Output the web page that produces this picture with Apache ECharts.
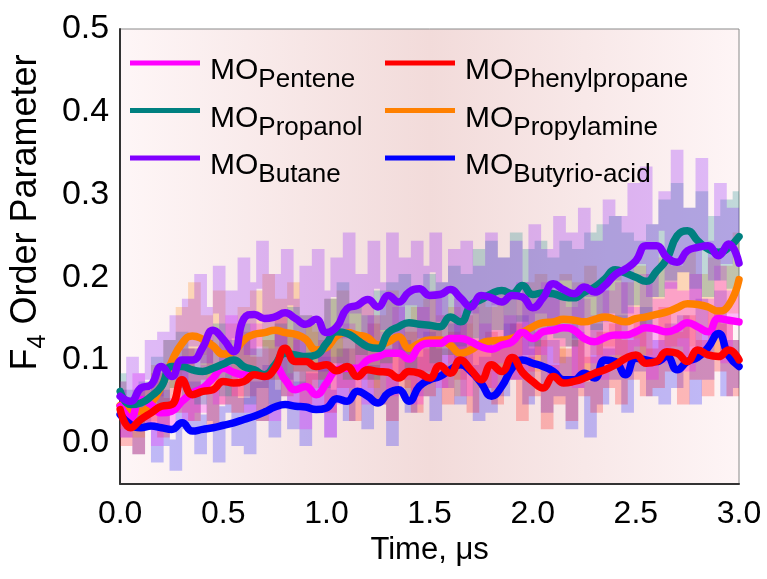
<!DOCTYPE html>
<html>
<head>
<meta charset="utf-8">
<script src="https://cdn.jsdelivr.net/npm/echarts@6/dist/echarts.min.js"></script>
<style>
  html, body { margin: 0; padding: 0; background: #ffffff; }
  #chart { width: 767px; height: 579px; }
</style>
</head>
<body>
<div id="chart"></div>
<script>
// Axis ticks
const xTicks = [0.0, 0.5, 1.0, 1.5, 2.0, 2.5, 3.0];
const yTicks = [0.0, 0.1, 0.2, 0.3, 0.4, 0.5];
const TIME_END = 3.0;

// Running-average F4 order parameter, sampled every 0.05 µs (0 → 3 µs)
const pentene = [0.044,0.030,0.052,0.046,0.036,0.038,0.050,0.060,0.066,0.078,0.090,0.085,0.082,0.086,0.080,0.092,0.076,0.064,0.068,0.058,0.072,0.088,0.090,0.090,0.100,0.104,0.108,0.108,0.101,0.116,0.120,0.120,0.126,0.126,0.122,0.116,0.113,0.118,0.122,0.133,0.126,0.134,0.136,0.139,0.136,0.126,0.122,0.127,0.130,0.130,0.134,0.139,0.137,0.134,0.138,0.145,0.140,0.134,0.150,0.148,0.146];
const phenylpropane = [0.040,0.018,0.028,0.036,0.044,0.046,0.076,0.058,0.062,0.064,0.074,0.072,0.074,0.082,0.080,0.090,0.114,0.098,0.098,0.092,0.094,0.087,0.092,0.080,0.088,0.086,0.085,0.078,0.086,0.084,0.078,0.093,0.084,0.100,0.088,0.076,0.094,0.086,0.103,0.085,0.074,0.066,0.080,0.072,0.074,0.078,0.084,0.088,0.094,0.102,0.106,0.096,0.098,0.110,0.108,0.098,0.112,0.106,0.104,0.112,0.100];
const propanol = [0.062,0.046,0.048,0.056,0.068,0.092,0.092,0.088,0.086,0.090,0.095,0.100,0.092,0.088,0.082,0.094,0.108,0.106,0.104,0.106,0.120,0.134,0.132,0.124,0.116,0.114,0.133,0.140,0.145,0.143,0.142,0.140,0.152,0.146,0.166,0.173,0.180,0.184,0.180,0.190,0.179,0.181,0.180,0.176,0.175,0.182,0.188,0.198,0.209,0.205,0.200,0.195,0.207,0.222,0.250,0.256,0.244,0.234,0.230,0.236,0.249];
const propylamine = [0.045,0.038,0.038,0.048,0.068,0.098,0.120,0.129,0.125,0.117,0.107,0.110,0.124,0.131,0.133,0.136,0.133,0.131,0.125,0.112,0.115,0.129,0.133,0.130,0.127,0.118,0.122,0.128,0.114,0.120,0.124,0.124,0.118,0.108,0.112,0.120,0.123,0.124,0.126,0.133,0.140,0.145,0.146,0.149,0.148,0.146,0.149,0.152,0.149,0.146,0.150,0.152,0.155,0.158,0.163,0.168,0.167,0.164,0.159,0.166,0.197];
const butane = [0.056,0.050,0.066,0.070,0.092,0.080,0.100,0.100,0.115,0.136,0.125,0.110,0.150,0.155,0.150,0.152,0.157,0.150,0.143,0.149,0.133,0.140,0.162,0.166,0.173,0.164,0.178,0.170,0.182,0.186,0.178,0.179,0.185,0.175,0.164,0.178,0.175,0.170,0.178,0.176,0.163,0.175,0.192,0.185,0.180,0.188,0.182,0.190,0.203,0.210,0.220,0.238,0.238,0.224,0.218,0.232,0.236,0.238,0.226,0.240,0.217];
const butyrioAcid = [0.034,0.022,0.018,0.020,0.018,0.016,0.024,0.014,0.016,0.018,0.021,0.024,0.028,0.032,0.037,0.043,0.046,0.044,0.043,0.040,0.042,0.053,0.050,0.062,0.056,0.048,0.060,0.064,0.050,0.068,0.076,0.080,0.088,0.094,0.086,0.072,0.056,0.068,0.090,0.100,0.096,0.092,0.086,0.076,0.076,0.084,0.078,0.100,0.098,0.082,0.102,0.100,0.098,0.104,0.088,0.098,0.103,0.115,0.132,0.105,0.092];

// Instantaneous F4 values, sampled every 0.03 µs (0 → 3 µs)
const penteneRaw = [
  0.06,0.01,0.05,0.08,0.02,0.06,0.00,0.07,0.02,0.05,
  0.09,0.03,0.11,0.04,0.09,0.13,0.05,0.12,0.15,0.06,
  0.12,0.04,0.14,0.07,0.11,0.03,0.13,0.08,0.05,0.12,
  0.02,0.09,0.04,0.11,0.01,0.10,0.05,0.14,0.07,0.12,
  0.05,0.15,0.09,0.13,0.06,0.16,0.08,0.14,0.05,0.16,
  0.09,0.18,0.07,0.15,0.10,0.17,0.06,0.16,0.08,0.14,
  0.07,0.17,0.10,0.15,0.08,0.19,0.09,0.16,0.11,0.19,
  0.08,0.18,0.12,0.16,0.07,0.17,0.10,0.15,0.08,0.18,
  0.11,0.19,0.09,0.16,0.12,0.20,0.08,0.17,0.10,0.19,
  0.12,0.18,0.09,0.20,0.11,0.17,0.13,0.21,0.10,0.18,0.15];
const phenylpropaneRaw = [
  0.05,0.00,0.03,-0.01,0.06,0.02,0.08,0.01,0.05,0.09,
  0.04,0.11,0.03,0.08,0.12,0.02,0.09,0.05,0.11,0.04,
  0.13,0.06,0.10,0.03,0.12,0.08,0.15,0.06,0.13,0.09,
  0.05,0.14,0.08,0.12,0.04,0.13,0.07,0.11,0.03,0.12,
  0.08,0.14,0.05,0.10,0.03,0.12,0.07,0.13,0.04,0.11,
  0.06,0.14,0.09,0.05,0.13,0.08,0.15,0.04,0.11,0.07,
  0.13,0.05,0.12,0.08,0.14,0.03,0.10,0.06,0.12,0.02,
  0.09,0.05,0.11,0.03,0.12,0.06,0.10,0.04,0.13,0.07,
  0.14,0.05,0.12,0.08,0.15,0.06,0.11,0.07,0.16,0.09,
  0.13,0.05,0.15,0.08,0.12,0.06,0.16,0.09,0.14,0.06,0.12];
const propanolRaw = [
  0.08,0.03,0.06,0.02,0.07,0.05,0.10,0.04,0.12,0.07,
  0.13,0.06,0.11,0.05,0.12,0.08,0.14,0.06,0.12,0.09,
  0.14,0.05,0.11,0.07,0.13,0.05,0.14,0.08,0.16,0.07,
  0.15,0.09,0.14,0.07,0.17,0.10,0.19,0.08,0.16,0.11,
  0.15,0.08,0.18,0.10,0.19,0.11,0.20,0.09,0.18,0.12,
  0.20,0.10,0.19,0.11,0.21,0.12,0.20,0.13,0.23,0.12,
  0.24,0.14,0.22,0.13,0.25,0.15,0.23,0.12,0.24,0.14,
  0.22,0.13,0.24,0.12,0.23,0.15,0.25,0.14,0.26,0.16,
  0.27,0.15,0.25,0.17,0.24,0.14,0.26,0.18,0.29,0.20,
  0.31,0.21,0.28,0.19,0.30,0.18,0.27,0.20,0.29,0.19,0.30];
const propylamineRaw = [
  0.07,0.02,0.05,0.01,0.06,0.03,0.09,0.05,0.12,0.07,
  0.16,0.09,0.19,0.11,0.15,0.07,0.18,0.10,0.14,0.06,
  0.16,0.09,0.18,0.12,0.20,0.08,0.17,0.11,0.19,0.09,
  0.15,0.07,0.13,0.08,0.17,0.10,0.18,0.08,0.16,0.11,
  0.17,0.07,0.15,0.10,0.18,0.08,0.14,0.06,0.16,0.09,
  0.17,0.08,0.15,0.11,0.16,0.06,0.14,0.09,0.17,0.07,
  0.16,0.09,0.18,0.10,0.17,0.11,0.19,0.09,0.20,0.12,
  0.18,0.10,0.20,0.12,0.19,0.09,0.21,0.11,0.18,0.12,
  0.20,0.10,0.19,0.13,0.21,0.11,0.20,0.14,0.22,0.12,
  0.21,0.13,0.23,0.12,0.20,0.14,0.22,0.11,0.21,0.16,0.25];
const butaneRaw = [
  0.07,0.04,0.10,0.05,0.08,0.12,0.06,0.13,0.09,0.15,
  0.07,0.17,0.12,0.20,0.10,0.16,0.21,0.09,0.18,0.13,
  0.22,0.11,0.19,0.24,0.14,0.20,0.12,0.23,0.17,0.10,
  0.21,0.15,0.23,0.09,0.18,0.22,0.13,0.25,0.16,0.20,
  0.12,0.24,0.19,0.14,0.25,0.11,0.22,0.17,0.24,0.13,
  0.21,0.25,0.15,0.19,0.23,0.10,0.24,0.16,0.21,0.12,
  0.25,0.17,0.22,0.13,0.24,0.19,0.11,0.26,0.16,0.23,
  0.14,0.27,0.20,0.25,0.13,0.28,0.18,0.24,0.15,0.29,
  0.20,0.27,0.16,0.31,0.22,0.33,0.18,0.26,0.30,0.19,
  0.35,0.21,0.28,0.17,0.34,0.24,0.20,0.31,0.22,0.28,0.25];
const butyrioAcidRaw = [
  0.06,0.01,0.04,-0.01,0.05,0.02,-0.02,0.06,0.00,-0.03,
  0.05,0.02,0.07,-0.01,0.03,0.06,-0.02,0.04,0.08,0.00,
  0.05,-0.01,0.07,0.03,0.09,0.01,0.06,0.10,0.02,0.07,
  0.00,0.08,0.04,0.10,0.01,0.06,0.11,0.03,0.08,0.12,
  0.02,0.09,0.05,0.11,0.00,0.08,0.12,0.04,0.10,0.06,
  0.13,0.03,0.11,0.07,0.14,0.05,0.12,0.09,0.03,0.10,
  0.04,0.12,0.06,0.14,0.08,0.15,0.05,0.11,0.13,0.04,
  0.12,0.06,0.10,0.02,0.13,0.07,0.01,0.14,0.05,0.11,
  0.08,0.15,0.04,0.13,0.09,0.16,0.06,0.12,0.05,0.14,
  0.07,0.15,0.10,0.05,0.17,0.08,0.13,0.18,0.06,0.12,0.07];

const FONT = '"Liberation Sans", Arial, Helvetica, sans-serif';

// Spread samples evenly over the simulated time span
function toPairs(values) {
  const step = TIME_END / (values.length - 1);
  return values.map((v, i) => [+(i * step).toFixed(4), v]);
}

const systems = [
  { name: 'Pentene',       color: '#ff00ff', avg: pentene,       raw: penteneRaw },
  { name: 'Phenylpropane', color: '#ff0000', avg: phenylpropane, raw: phenylpropaneRaw },
  { name: 'Propanol',      color: '#008080', avg: propanol,      raw: propanolRaw },
  { name: 'Propylamine',   color: '#ff8000', avg: propylamine,   raw: propylamineRaw },
  { name: 'Butane',        color: '#8000ff', avg: butane,        raw: butaneRaw },
  { name: 'Butyrio-acid',  color: '#0000ff', avg: butyrioAcid,   raw: butyrioAcidRaw }
];
const byName = Object.fromEntries(systems.map(s => [s.name, s]));

// Noisy traces first (faint haze), then the running averages on top
const rawOrder = ['Butyrio-acid', 'Phenylpropane', 'Propylamine', 'Pentene', 'Propanol', 'Butane'];
const avgOrder = ['Propylamine', 'Pentene', 'Propanol', 'Butyrio-acid', 'Phenylpropane', 'Butane'];

const series = [];
rawOrder.forEach(n => {
  const s = byName[n];
  series.push({
    name: n + ' raw', type: 'line', data: toPairs(s.raw), showSymbol: false, silent: true,
    step: 'middle',
    lineStyle: { color: s.color, width: 6.5, opacity: 0.24, join: 'miter', cap: 'butt' },
    itemStyle: { color: s.color },
    z: 2
  });
});
avgOrder.forEach(n => {
  const s = byName[n];
  series.push({
    name: n, type: 'line', data: toPairs(s.avg), showSymbol: false, smooth: 0.5,
    lineStyle: { color: s.color, width: 7.5, join: 'round', cap: 'round' },
    itemStyle: { color: s.color },
    z: 3
  });
});

const legendRich = {
  m: { fontSize: 30, fontFamily: FONT, color: '#000', lineHeight: 30, verticalAlign: 'top', padding: [8, 0, 0, 5] },
  s: { fontSize: 26, fontFamily: FONT, color: '#000', lineHeight: 26, verticalAlign: 'top', padding: [19, 0, 0, 0] }
};
function legendBlock(left, names) {
  return {
    left: left, top: 48, orient: 'vertical', padding: 0,
    itemWidth: 70, itemHeight: 5, itemGap: 2.5, icon: 'rect',
    data: names,
    formatter: n => '{m|MO}{s|' + n + '}',
    textStyle: { rich: legendRich }
  };
}

const chart = echarts.init(document.getElementById('chart'), null, { renderer: 'canvas' });
chart.setOption({
  animation: false,
  backgroundColor: '#ffffff',
  grid: {
    left: 120, right: 28, top: 29, bottom: 95,
    show: true, borderColor: '#8a8a8a', borderWidth: 1,
    backgroundColor: new echarts.graphic.LinearGradient(0, 0, 1, 0, [
      { offset: 0, color: '#fef6f7' },
      { offset: 0.5, color: '#f2dbda' },
      { offset: 1, color: '#fef5f6' }
    ])
  },
  legend: [
    legendBlock(130, ['Pentene', 'Propanol', 'Butane']),
    legendBlock(385, ['Phenylpropane', 'Propylamine', 'Butyrio-acid'])
  ],
  xAxis: {
    type: 'value', min: xTicks[0], max: xTicks[xTicks.length - 1], interval: 0.5,
    axisLine: { show: true, onZero: false, lineStyle: { color: '#333', width: 2 } },
    axisTick: { show: false },
    splitLine: { show: false },
    axisLabel: { fontSize: 32, fontFamily: FONT, color: '#000', margin: 14, formatter: v => v.toFixed(1) },
    name: 'Time, μs', nameLocation: 'middle', nameGap: 48,
    nameTextStyle: { fontSize: 31, fontFamily: FONT, color: '#000' }
  },
  yAxis: {
    type: 'value', min: -0.05, max: yTicks[yTicks.length - 1],
    axisLine: { show: true, onZero: false, lineStyle: { color: '#333', width: 2 } },
    axisTick: { show: false },
    splitLine: { show: false },
    axisLabel: { fontSize: 34, fontFamily: FONT, color: '#000', margin: 11,
      customValues: yTicks, formatter: v => v.toFixed(1) },
    name: '{f|F}{s|4}{f| Order Parameter}', nameLocation: 'middle', nameGap: 72, nameRotate: 90,
    nameTextStyle: {
      padding: [0, 0, 0, 88],
      rich: {
        f: { fontSize: 36, fontFamily: FONT, color: '#000', lineHeight: 38, verticalAlign: 'top' },
        s: { fontSize: 25, fontFamily: FONT, color: '#000', lineHeight: 25, verticalAlign: 'top', padding: [18, 0, 0, 0] }
      }
    }
  },
  series: series
});
</script>
</body>
</html>
